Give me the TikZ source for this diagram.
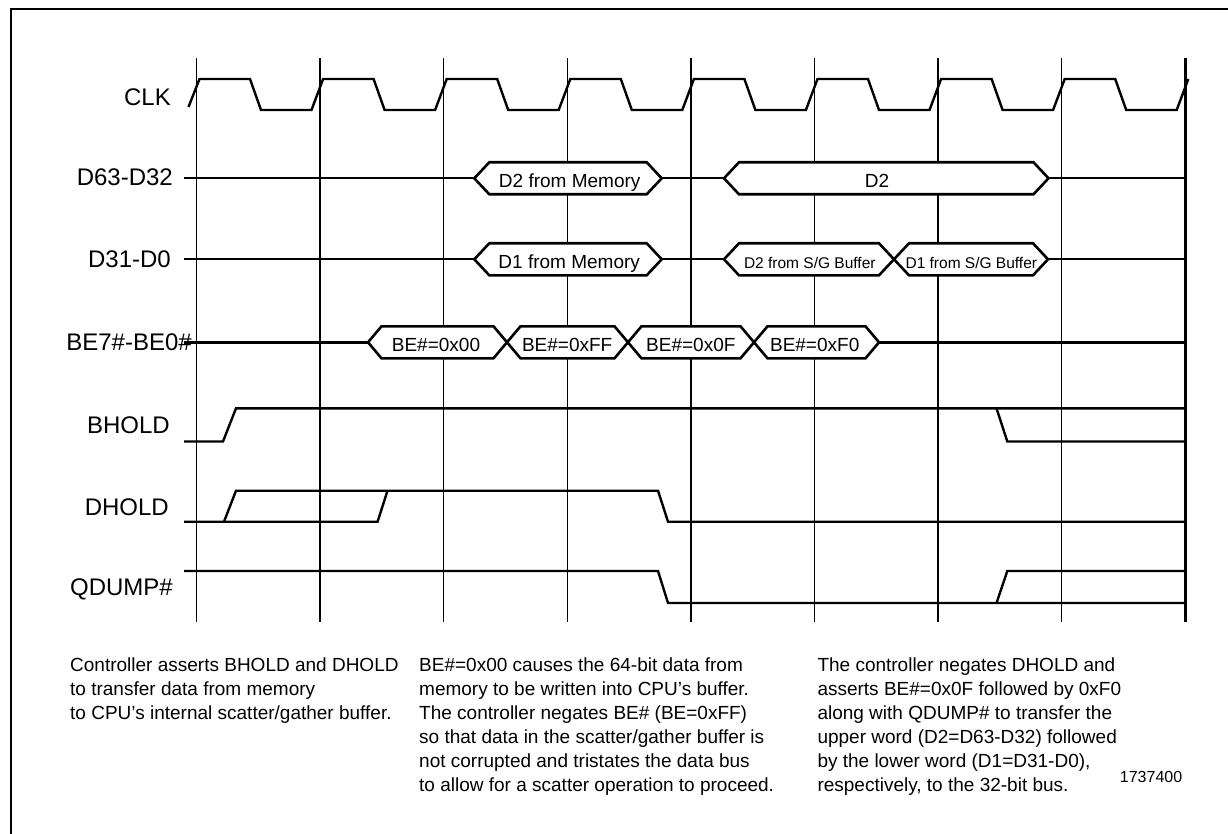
\documentclass[tikz,border=0pt]{standalone}
\usepackage{fontspec}
\setmainfont{Liberation Sans}
\usepackage{tikz}

\begin{document}
\begin{tikzpicture}[x=1pt,y=-1pt,
  sig/.style={line width=2.4pt},
  gridline/.style={line width=1.4pt},
  hexline/.style={line width=2.6pt,fill=white},
  siglabel/.style={anchor=base east,inner sep=0pt,font=\fontsize{24}{28}\selectfont},
  hexlabel/.style={anchor=base,inner sep=0pt,font=\fontsize{19}{23}\selectfont},
  hexsmall/.style={anchor=base,inner sep=0pt,font=\fontsize{15.5}{19}\selectfont},
  notetext/.style={anchor=base west,inner sep=0pt,font=\fontsize{19}{24}\selectfont}]
 \useasboundingbox (0,0) rectangle (1228,834);
 \clip (0,0) rectangle (1228,834);
 \draw[line width=2.6pt] (11,9) rectangle (1260,870);
 \foreach \k in {0,...,7}
  \draw[gridline] (196.5+123.6*\k,58) -- (196.5+123.6*\k,622);
 \draw[sig] (1185.3,58) -- (1185.3,622);
 \draw[sig] (188.5,107) -- (199.5,79)
  \foreach \k in {0,...,7} {
   -- (250+123.6*\k,79) -- (261+123.6*\k,110)
   -- (311.5+123.6*\k,110) -- (323.1+123.6*\k,79)};
 \foreach \y in {178.3,259.3,342.3}
  \draw[sig] (184,\y) -- (1185.3,\y);
 \draw[sig] (184,441.5) -- (223,441.5) -- (236,408.3) -- (1185.3,408.3);
 \draw[sig] (996.5,408.3) -- (1007.3,441.5) -- (1185.3,441.5);
 \draw[sig] (184,521.7) -- (224,521.7) -- (236,490.7) -- (658,490.7)
  -- (668,521.7) -- (1185.3,521.7);
 \draw[sig] (224,521.7) -- (377.6,521.7) -- (387.5,490.7);
 \draw[sig] (184,571) -- (658,571) -- (668,603) -- (1185.3,603);
 \draw[sig] (996.5,603) -- (1007.3,571) -- (1185.3,571);
 \foreach \a/\b/\y/\s/\c/\f/\t in {
   474.3/661.7/178.3/15/569.7/hexlabel/{D2 from Memory},
   724/1048.5/178.3/15/877/hexlabel/{D2},
   474.3/661.7/259.3/15/569.2/hexlabel/{D1 from Memory},
   724/894/259.3/15/809.8/hexsmall/{D2 from S/G Buffer},
   894/1048/259.3/15/971.3/hexsmall/{D1 from S/G Buffer},
   368/507/342.3/13.5/436/hexlabel/{BE\#=0x00},
   507/628/342.3/13.5/567.2/hexlabel/{BE\#=0xFF},
   628/754/342.3/13.5/690.8/hexlabel/{BE\#=0x0F},
   754/879/342.3/13.5/814.7/hexlabel/{BE\#=0xF0}} {
  \draw[hexline] (\a,\y) -- (\a+\s,\y-16) -- (\b-\s,\y-16) -- (\b,\y)
   -- (\b-\s,\y+16) -- (\a+\s,\y+16) -- cycle;
  \node[\f] at (\c,\y+9.5) {\t};}
 \node[siglabel] (clk) at (171,106) {CLK};
 \node[siglabel] (dhigh) at (173,186) {D63-D32};
 \node[siglabel] (dlow) at (171,267.7) {D31-D0};
 \node[siglabel] (bytes) at (192,350) {BE7\#-BE0\#};
 \node[siglabel] (bhold) at (170,433.3) {BHOLD};
 \node[siglabel] (dhold) at (169,515) {DHOLD};
 \node[siglabel] (qdump) at (173,595) {QDUMP\#};
 \foreach \t [count=\i] in {Controller asserts BHOLD and DHOLD,
   to transfer data from memory,
   {to CPU’s internal scatter/gather buffer.}}
  \node[notetext] (notea\i) at (70,647.7+24*\i) {\t};
 \foreach \t [count=\i] in {BE\#=0x00 causes the 64-bit data from,
   memory to be written into CPU’s buffer.,
   The controller negates BE\# (BE=0xFF),
   so that data in the scatter/gather buffer is,
   not corrupted and tristates the data bus,
   to allow for a scatter operation to proceed.}
  \node[notetext] (noteb\i) at (419,647.7+24*\i) {\t};
 \foreach \t [count=\i] in {The controller negates DHOLD and,
   asserts BE\#=0x0F followed by 0xF0,
   along with QDUMP\# to transfer the,
   upper word (D2=D63-D32) followed,
   {by the lower word (D1=D31-D0),},
   {respectively, to the 32-bit bus.}}
  \node[notetext] (notec\i) at (817.3,647.7+24*\i) {\t};
 \node[anchor=base west,inner sep=0pt,font=\fontsize{16}{19}\selectfont]
  (figno) at (1119.7,782.3) {1737400};
\end{tikzpicture}
\end{document}
